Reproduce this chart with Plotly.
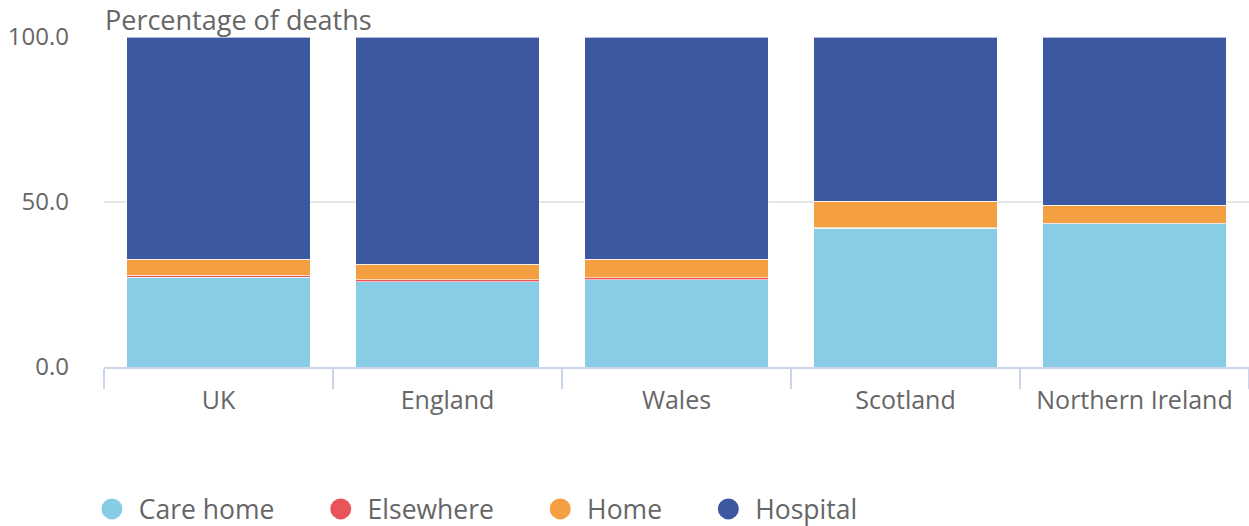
import plotly.graph_objects as go

categories = ["UK", "England", "Wales", "Scotland", "Northern Ireland"]
care_home = [27.2, 25.8, 26.5, 42.1, 43.4]
elsewhere = [0.6, 0.6, 0.5, 0.1, 0.1]
home = [4.8, 4.8, 5.7, 8.1, 5.5]
hospital = [67.4, 68.8, 67.3, 49.7, 51.0]

series = [
    ("Care home", care_home, "#88CDE5"),
    ("Elsewhere", elsewhere, "#E9545A"),
    ("Home", home, "#F59F43"),
    ("Hospital", hospital, "#3B58A0"),
]

font_family = "Open Sans, DejaVu Sans, sans-serif"
NB = "\u00a0"

fig = go.Figure()
for name, vals, color in series:
    fig.add_trace(go.Bar(
        x=categories, y=vals, name=name,
        marker=dict(color=color, line=dict(color="rgba(255,255,255,0.6)", width=1)),
        showlegend=False,
        hovertemplate="%{x}<br>" + name + ": %{y:.1f}%<extra></extra>",
    ))
# legend entries with circle symbols
for name, vals, color in series:
    fig.add_trace(go.Scatter(
        x=[None], y=[None], mode="markers", name=NB + name + NB * 6,
        marker=dict(symbol="circle", size=16, color=color, line=dict(color=color, width=5)),
        hoverinfo="skip",
    ))

fig.update_layout(
    width=1249, height=526,
    barmode="stack", bargap=0.2,
    plot_bgcolor="white", paper_bgcolor="white",
    margin=dict(l=104, r=0, t=37, b=159),
    font=dict(family=font_family, color="#666666", size=24),
    xaxis=dict(
        type="category",
        showline=True, linecolor="#CCD6EB", linewidth=2,
        ticks="outside", tickson="boundaries", ticklen=20, tickcolor="#CCD6EB", tickwidth=2,
        tickfont=dict(size=25, color="#666666"),
        ticklabelstandoff=10,
        showgrid=False,
    ),
    yaxis=dict(
        range=[0, 100], tickvals=[0, 50, 100], tickformat=".1f",
        showgrid=True, gridcolor="#E6E6E6", gridwidth=2,
        zeroline=False, showline=False,
        ticks="", ticklabelstandoff=34,
        tickfont=dict(size=24, color="#666666"),
    ),
    legend=dict(
        orientation="h", xref="container", yref="container",
        x=0.0736, y=0.032, xanchor="left", yanchor="middle",
        font=dict(size=26.5, color="#666666"),
        itemsizing="trace", traceorder="normal",
    ),
    annotations=[dict(
        text="Percentage of deaths", xref="paper", yref="paper",
        x=0, y=1, xanchor="left", yanchor="bottom", yshift=-3, xshift=-1,
        showarrow=False, font=dict(size=27, color="#666666"),
    )],
)

fig.write_html("out.html", config={"displayModeBar": False},
               post_script="document.body.style.margin='0';")
